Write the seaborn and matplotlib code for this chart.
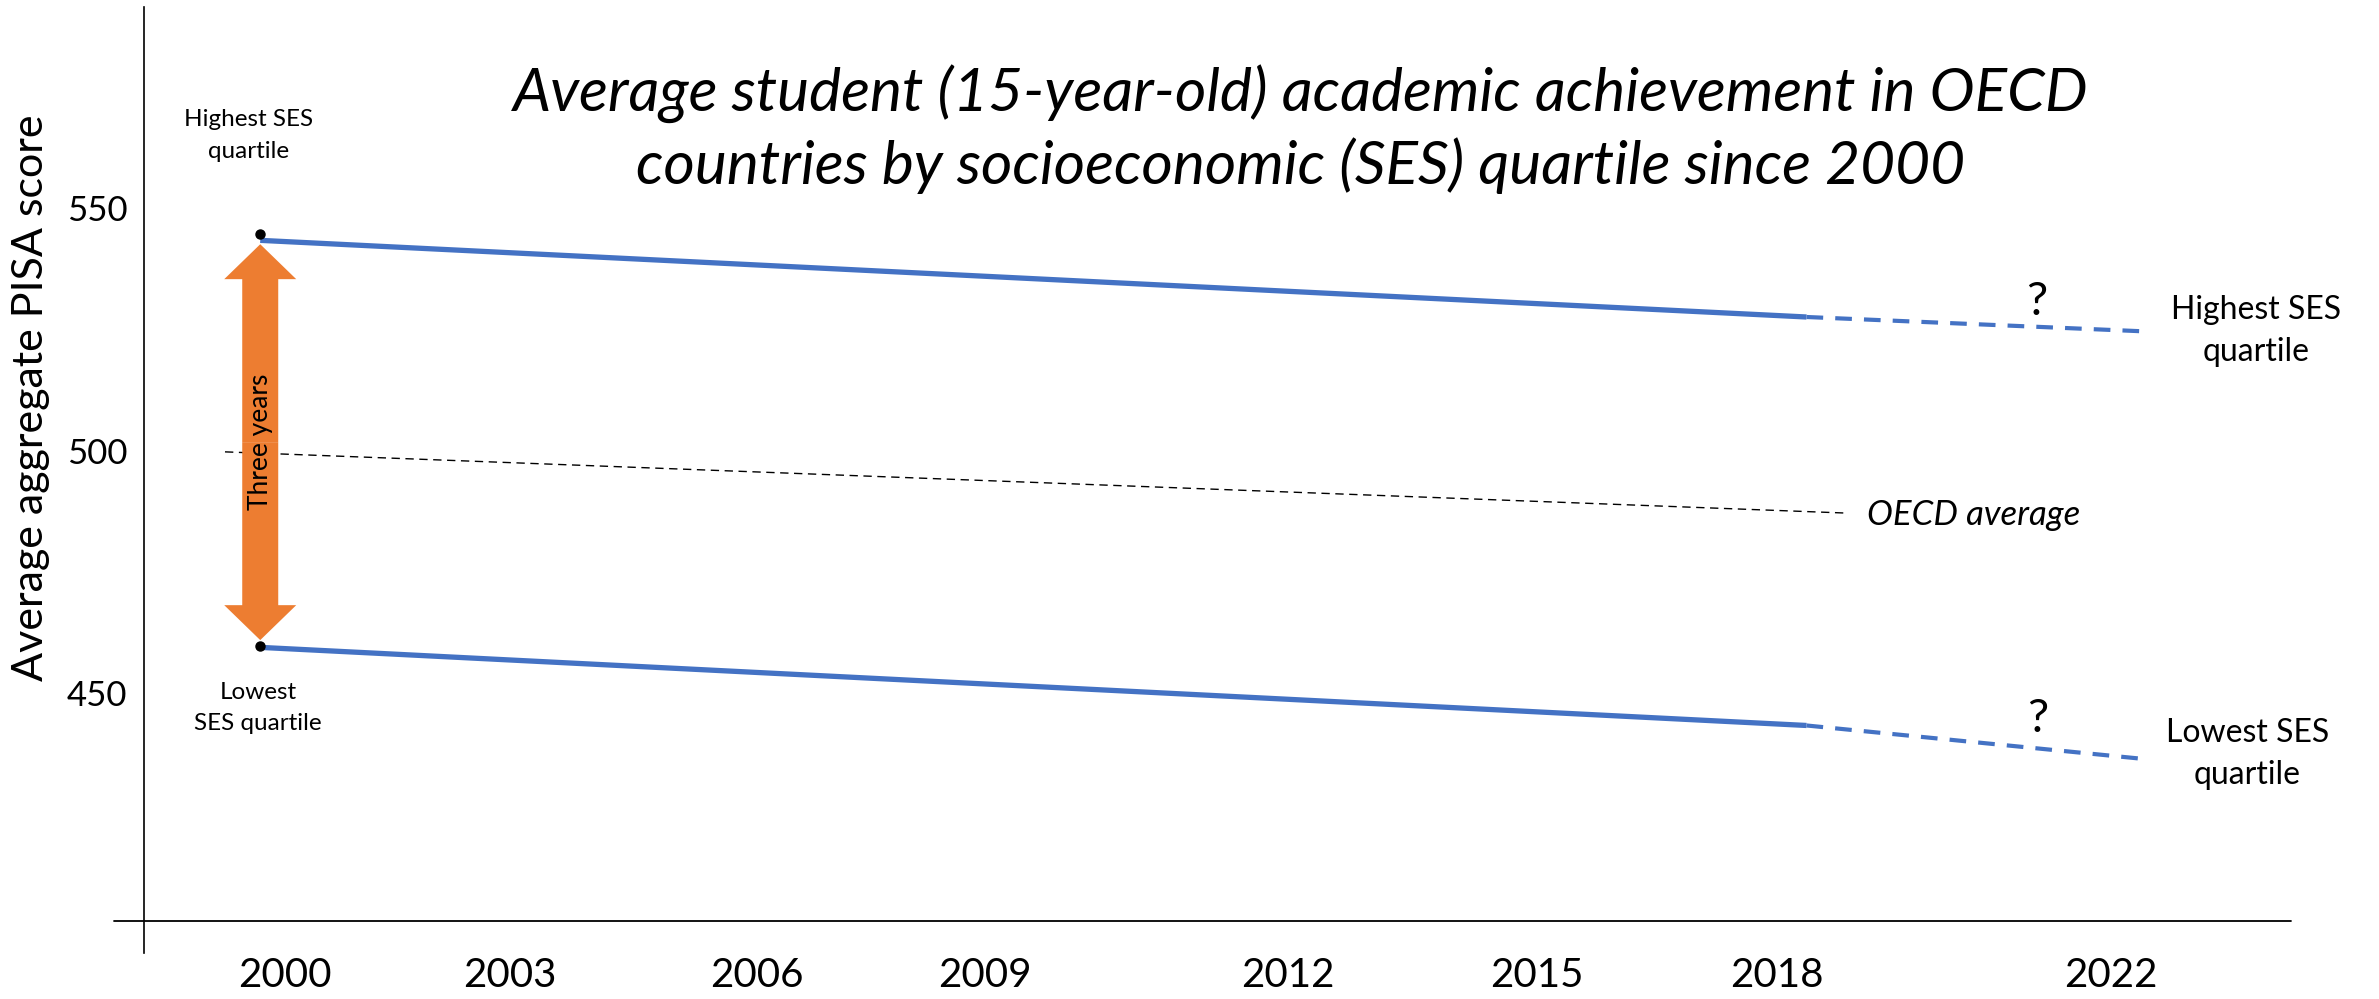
import numpy as np
import pandas as pd
import seaborn as sns
from matplotlib import pyplot as plt
from matplotlib.patches import FancyArrow
from matplotlib.transforms import blended_transform_factory

# --- data ---
tick_years  = [2000, 2003, 2006, 2009, 2012, 2015, 2018, 2022]
tick_labels = [str(y) for y in tick_years]

solid_years = [1999.67, 2018.35]
high_solid  = [543.4, 527.6]
low_solid   = [459.5, 443.4]

dash_years  = [2018.35, 2022.5]
high_dash   = [527.6, 524.6]
low_dash    = [443.4, 436.4]

oecd_years  = [1999.2, 2018.8]
oecd_avg    = [499.8, 487.2]

dot_scores  = [544.8, 459.7]
y_ticks     = [450, 500, 550]

# the year axis in the original is not evenly spaced
tick_slot = [0, 3.0, 6.29, 9.33, 13.37, 16.69, 19.9, 24.35]
ext_years = [1990] + tick_years + [2030]
ext_slot  = [-10] + tick_slot + [tick_slot[-1] + 8]

def fwd(y):
    return np.interp(y, ext_years, ext_slot)

def inv(s):
    return np.interp(s, ext_slot, ext_years)

BLUE   = '#4472C4'
ORANGE = '#ED7D31'

sns.set_theme(style='white')
plt.rcParams['font.family'] = ['Lato', 'DejaVu Sans']
plt.rcParams['text.color'] = 'black'
plt.rcParams['xtick.color'] = 'black'
plt.rcParams['ytick.color'] = 'black'

W, H = 2379, 999
XMIN, XMAX = 1998.12, 2024.4
fig = plt.figure(figsize=(W/100, H/100), dpi=100)
ax = fig.add_axes([144/W, 1 - 953/H, (2291-144)/W, (953-7)/H])
ax.set_xscale('function', functions=(fwd, inv))
ax.set_xlim(XMIN, XMAX)
ax.set_ylim(396.5, 591.5)

lines = pd.DataFrame({'year': solid_years*2,
                      'score': high_solid + low_solid,
                      'group': ['high']*2 + ['low']*2})
sns.lineplot(data=lines, x='year', y='score', units='group', estimator=None,
             color=BLUE, lw=3.8, ax=ax, solid_capstyle='butt')
for ys in (high_dash, low_dash):
    sns.lineplot(x=dash_years, y=ys, color=BLUE, lw=3.0, ax=ax,
                 linestyle=(0, (4, 2.9)))
sns.lineplot(x=oecd_years, y=oecd_avg, color='black', lw=1.0, ax=ax,
             linestyle=(0, (6, 4)))
ax.plot([solid_years[0]]*2, dot_scores, 'o', color='black', ms=6.5, zorder=5)

# orange double arrow between the two starting scores
top, bot = high_solid[0] - 0.8, low_solid[0] + 1.5
mid = (top + bot) / 2
xa = solid_years[0]
span = fwd(XMAX) - fwd(XMIN)
fx = (fwd(xa) - fwd(XMIN)) / span
tr = blended_transform_factory(ax.transAxes, ax.transData)
for tip in (top, bot):
    arr = FancyArrow(fx, mid, 0, tip - mid, width=0.48/span, head_width=0.96/span,
                     head_length=7.2, length_includes_head=True,
                     color=ORANGE, lw=0, zorder=3, transform=tr)
    ax.add_patch(arr)
ax.text(xa, 501.9, 'Three years', rotation=90, ha='center', va='center',
        fontsize=19, zorder=4)

# axis lines (they cross each other like in the original)
ax.spines[['top', 'right', 'bottom']].set_visible(False)
ax.spines['left'].set_color('black')
ax.spines['left'].set_linewidth(1.2)
ax.plot([-30/2147, 1], [403.1, 403.1], color='black', lw=1.3,
        transform=ax.get_yaxis_transform(), clip_on=False)

ax.set_xticks(tick_years)
ax.set_xticklabels(tick_labels, fontsize=29)
ax.set_yticks(y_ticks)
ax.set_yticklabels([str(v) for v in y_ticks], fontsize=25)
ax.tick_params(axis='x', length=0, pad=3)
ax.tick_params(axis='y', length=0, pad=12)
ax.minorticks_off()
ax.set_xlabel('')
ax.set_ylabel('')

fig.text(31/W, 1 - 398/H, 'Average aggregate PISA score', rotation=90,
         ha='center', va='center', fontsize=31)
fig.text(1301/W, 1 - 129/H,
         'Average student (15-year-old) academic achievement in OECD\n'
         'countries by socioeconomic (SES) quartile since 2000',
         ha='center', va='center', fontsize=43.5, style='italic', linespacing=1.3)

ax.text(1999.52, 565.0, 'Highest SES\nquartile', ha='center', va='center',
        fontsize=17.5, linespacing=1.6)
ax.text(1999.64, 447.0, 'Lowest\nSES quartile', ha='center', va='center',
        fontsize=17.5, linespacing=1.6)
ax.text(2023.93, 524.7, 'Highest SES\nquartile', ha='center', va='center',
        fontsize=23, linespacing=1.5)
ax.text(2023.82, 437.6, 'Lowest SES\nquartile', ha='center', va='center',
        fontsize=23, linespacing=1.5)
ax.text(2021.11, 530.7, '?', ha='center', va='center', fontsize=34)
ax.text(2021.12, 444.8, '?', ha='center', va='center', fontsize=34)
ax.text(2019.07, 486.8, 'OECD average', ha='left', va='center',
        fontsize=25, style='italic')

fig.savefig('out.png', dpi=100)
